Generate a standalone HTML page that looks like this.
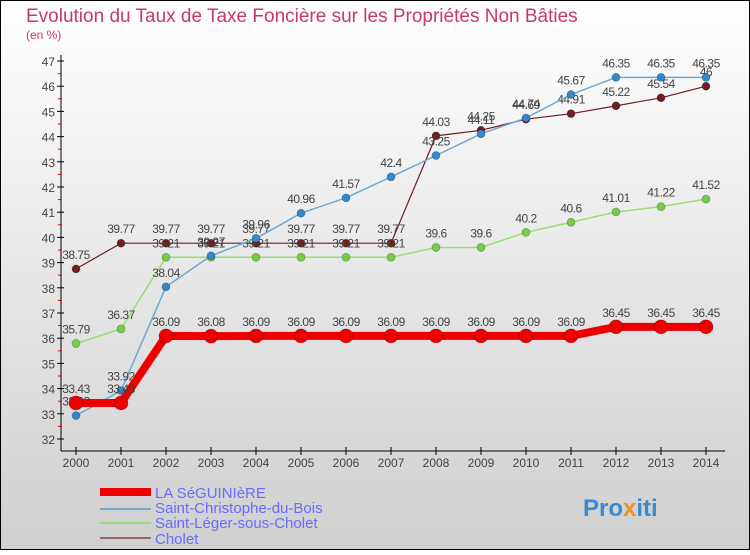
<!DOCTYPE html>
<html><head><meta charset="utf-8"><style>
html,body{margin:0;padding:0}
body{width:750px;height:550px;overflow:hidden;font-family:"Liberation Sans",sans-serif}
</style></head><body>
<svg id="c" width="750" height="550" xmlns="http://www.w3.org/2000/svg">
<defs><linearGradient id="bg" x1="0" y1="0" x2="0" y2="1"><stop offset="0" stop-color="#ffffff"/><stop offset="1" stop-color="#cfcfcf"/></linearGradient></defs>
<rect x="0.5" y="0.5" width="749" height="549" fill="url(#bg)" stroke="#000"/>
<text x="26" y="22" font-size="19" fill="#c8386b">Evolution du Taux de Taxe Foncière sur les Propriétés Non Bâties</text>
<text x="26" y="39" font-size="12" fill="#c8386b">(en %)</text>
<g id="axes"></g><g id="series"></g>
<g>
<rect x="100" y="488" width="51" height="8" fill="#e00"/>
<text x="155" y="498" font-size="15" fill="#6a6aff">LA SéGUINIèRE</text>
<rect x="100" y="508" width="51" height="2" fill="#6fa8d0"/>
<text x="155" y="513" font-size="15" fill="#6a6aff">Saint-Christophe-du-Bois</text>
<rect x="100" y="522" width="51" height="2" fill="#99dd77"/>
<text x="155" y="528" font-size="15" fill="#6a6aff">Saint-Léger-sous-Cholet</text>
<rect x="100" y="537" width="51" height="2" fill="#996666"/>
<text x="155" y="544" font-size="15" fill="#6a6aff">Cholet</text>
</g>
<text x="583" y="516" font-size="24" font-weight="bold" fill="#3a8ad0">Pro<tspan fill="#f09020">x</tspan>iti</text>
</svg>
<script>
const years=[2000,2001,2002,2003,2004,2005,2006,2007,2008,2009,2010,2011,2012,2013,2014];
const laSeguiniere=[33.43,33.43,36.09,36.08,36.09,36.09,36.09,36.09,36.09,36.09,36.09,36.09,36.45,36.45,36.45];
const saintChristophe=[32.93,33.92,38.04,39.27,39.96,40.96,41.57,42.4,43.25,44.11,44.74,45.67,46.35,46.35,46.35];
const saintLeger=[35.79,36.37,39.21,39.21,39.21,39.21,39.21,39.21,39.6,39.6,40.2,40.6,41.01,41.22,41.52];
const cholet=[38.75,39.77,39.77,39.77,39.77,39.77,39.77,39.77,44.03,44.25,44.69,44.91,45.22,45.54,46];
const yTicks=[32,33,34,35,36,37,38,39,40,41,42,43,44,45,46,47];
const NS="http://www.w3.org/2000/svg";
const X=i=>76+i*45, Y=v=>439-(v-32)*25.2;
function mk(t,a,p){const e=document.createElementNS(NS,t);for(const k in a)e.setAttribute(k,a[k]);p.appendChild(e);return e;}
const ax=document.getElementById('axes');
let yl=mk('line',{x1:61,y1:55,x2:61,y2:451,stroke:'#000'},ax);


let xl=mk('line',{x1:61,y1:451,x2:725,y2:451,stroke:'#000'},ax);


yTicks.forEach(v=>{
 mk('line',{x1:57,y1:Y(v),x2:64,y2:Y(v),stroke:'#000'},ax);
 if(v<47)mk('line',{x1:58,y1:Y(v+0.5),x2:62,y2:Y(v+0.5),stroke:'#e00'},ax);
 const t=mk('text',{x:55,y:Y(v)+5,'font-size':12,fill:'#444','text-anchor':'end'},ax);t.textContent=v;
 
 
});
years.forEach((yr,i)=>{
 mk('line',{x1:X(i),y1:447,x2:X(i),y2:455,stroke:'#000'},ax);
 const t=mk('text',{x:X(i),y:467,'font-size':12,fill:'#444','text-anchor':'middle'},ax);t.textContent=yr;
 
 
});
const sg=document.getElementById('series');
function draw(data,name,color,fill,lw,r){
 const g=mk('g',{},sg);
 
 
 mk('polyline',{points:data.map((v,i)=>X(i)+','+Y(v)).join(' '),fill:'none',stroke:color,'stroke-width':lw},g);
 data.forEach((v,i)=>{
  const c=mk('circle',{cx:X(i),cy:Y(v),r:r,fill:fill,stroke:'rgba(0,0,0,0.3)','stroke-width':0.7},g);
  
  
  const t=mk('text',{x:X(i),y:Y(v)-10,'font-size':12,fill:'#444','text-anchor':'middle','letter-spacing':'-0.5'},g);t.textContent=v;
  
  
 });
}
draw(cholet,'series-cholet','#6e1f1f','#6e1f1f',1.2,4);
draw(saintLeger,'series-saint-leger','#99dd77','#77cc44',1.5,4);
draw(saintChristophe,'series-saint-christophe','#6fa8d0','#3388cc',1.5,4);
draw(laSeguiniere,'series-la-seguiniere','#ee0000','#ee0000',8,7);
</script>
</body></html>
